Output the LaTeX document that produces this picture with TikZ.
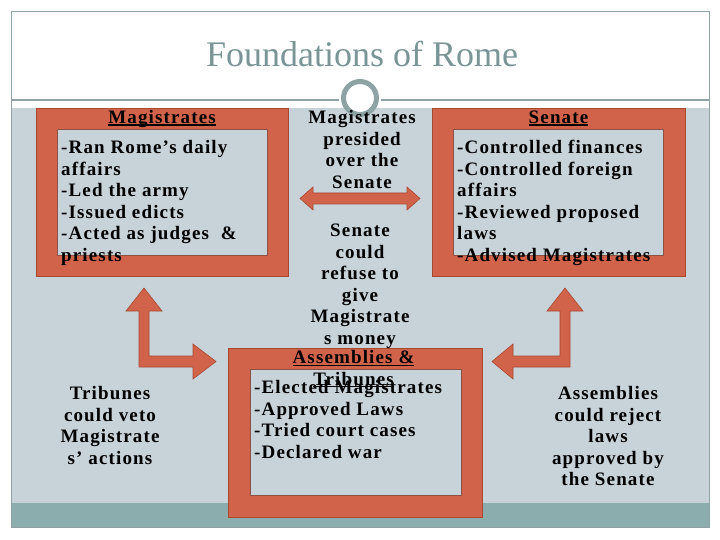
\documentclass[tikz,border=0pt]{standalone}
\usepackage{fontspec}
\setmainfont{Liberation Serif}
\newfontfamily\bodyfont[LetterSpace=6]{Liberation Serif}
\definecolor{orF}{HTML}{D1634A}
\definecolor{orD}{HTML}{A8492F}
\definecolor{bgG}{HTML}{C8D2D9}
\definecolor{inD}{HTML}{8C5046}
\definecolor{tealS}{HTML}{8BADAD}
\definecolor{frameC}{HTML}{8EA4A4}
\definecolor{titleC}{HTML}{7A9595}
\newcommand\firstln{\rule{0pt}{14pt}}
\newcommand\ulx[1]{\setbox0\hbox{#1}\rlap{\rule[-2.2pt]{\wd0}{1.2pt}}\box0}
\begin{document}
\begin{tikzpicture}[x=1pt,y=-1pt,
  outerbox/.style={rectangle, draw=orD, line width=0.7pt, fill=orF, inner sep=0pt},
  innerbox/.style={rectangle, draw=inD, line width=0.6pt, fill=bgG, inner sep=0pt},
  bodytext/.style={font=\bodyfont\bfseries\fontsize{19}{21.5}\selectfont, inner sep=0pt, text=black},
  blockarrow/.style={fill=orF, draw=orD, line width=0.6pt, line join=miter}]
\useasboundingbox (0,0) rectangle (720,540);
% background
\fill[white] (0,0) rectangle (720,540);
\fill[bgG] (11,108) rectangle (709,503);
\fill[tealS] (11,503) rectangle (709,527);
\draw[frameC, line width=1pt] (11,12) rectangle (709,527);
\draw[frameC, line width=1.2pt] (11,100) -- (339,100);
\draw[frameC, line width=1.2pt] (381,100) -- (709,100);
\node[circle, draw=frameC, fill=white, line width=5pt, minimum size=33pt, inner sep=0pt] (ring) at (360,98) {};
% title
\node[anchor=base, inner sep=0pt, text=titleC, font=\fontsize{36}{40}\selectfont] (title) at (362,67) {Foundations of Rome};
% boxes
\node[outerbox, minimum width=252pt, minimum height=168pt] (magO) at (162,192) {};
\node[innerbox, minimum width=210pt, minimum height=126pt] (magI) at (162,192) {};
\node[outerbox, minimum width=253pt, minimum height=168pt] (senO) at (558.5,192) {};
\node[innerbox, minimum width=210pt, minimum height=126pt] (senI) at (558,192) {};
\node[outerbox, minimum width=254pt, minimum height=169pt] (asmO) at (355,432.5) {};
\node[innerbox, minimum width=211pt, minimum height=126pt] (asmI) at (355.5,432) {};
% arrows
\draw[blockarrow] (300,198.5) -- (313,187) -- (313,193) -- (407,193) -- (407,187) -- (420,198.5)
  -- (407,210) -- (407,204) -- (313,204) -- (313,210) -- cycle;
\draw[blockarrow] (144,288) -- (162,311) -- (149,311) -- (149,356) -- (193,356) -- (193,344)
  -- (216,361.5) -- (193,379) -- (193,367) -- (139,367) -- (139,311) -- (126,311) -- cycle;
\draw[blockarrow] (565,288) -- (583,311) -- (570,311) -- (570,367) -- (513,367) -- (513,379)
  -- (492,361.5) -- (513,344) -- (513,356) -- (560,356) -- (560,311) -- (547,311) -- cycle;
% headings
\node[bodytext, anchor=base] (magH) at (162,123.5) {\ulx{Magistrates}};
\node[bodytext, anchor=base] (senH) at (558.5,123.5) {\ulx{Senate}};
% texts
\node[bodytext, anchor=north west, align=left] (magT) at (61,139.5)
  {\firstln-Ran Rome’s daily\\affairs\\-Led the army\\-Issued edicts\\-Acted as judges\ \ \&\\priests};
\node[bodytext, anchor=north west, align=left] (senT) at (457,139.5)
  {\firstln-Controlled finances\\-Controlled foreign\\affairs\\-Reviewed proposed\\laws\\-Advised Magistrates};
\node[bodytext, anchor=north, align=center] (presT) at (362,109.5)
  {\firstln Magistrates\\presided\\over the\\Senate};
\node[bodytext, anchor=north, align=center] (moneyT) at (360,222.5)
  {\firstln Senate\\could\\refuse to\\give\\Magistrate\\s money};
\node[bodytext, anchor=north west, align=left] (asmT) at (254,379.5)
  {\firstln-Elected Magistrates\\-Approved Laws\\-Tried court cases\\-Declared war};
\node[bodytext, anchor=north, align=center] (asmH) at (353.5,349.5)
  {\firstln\ulx{Assemblies \&}\\\ulx{Tribunes}};
\node[bodytext, anchor=north, align=center] (vetoT) at (110,385.5)
  {\firstln Tribunes\\could veto\\Magistrate\\s’ actions};
\node[bodytext, anchor=north, align=center] (rejT) at (608,385.5)
  {\firstln Assemblies\\could reject\\laws\\approved by\\the Senate};
\end{tikzpicture}
\end{document}
